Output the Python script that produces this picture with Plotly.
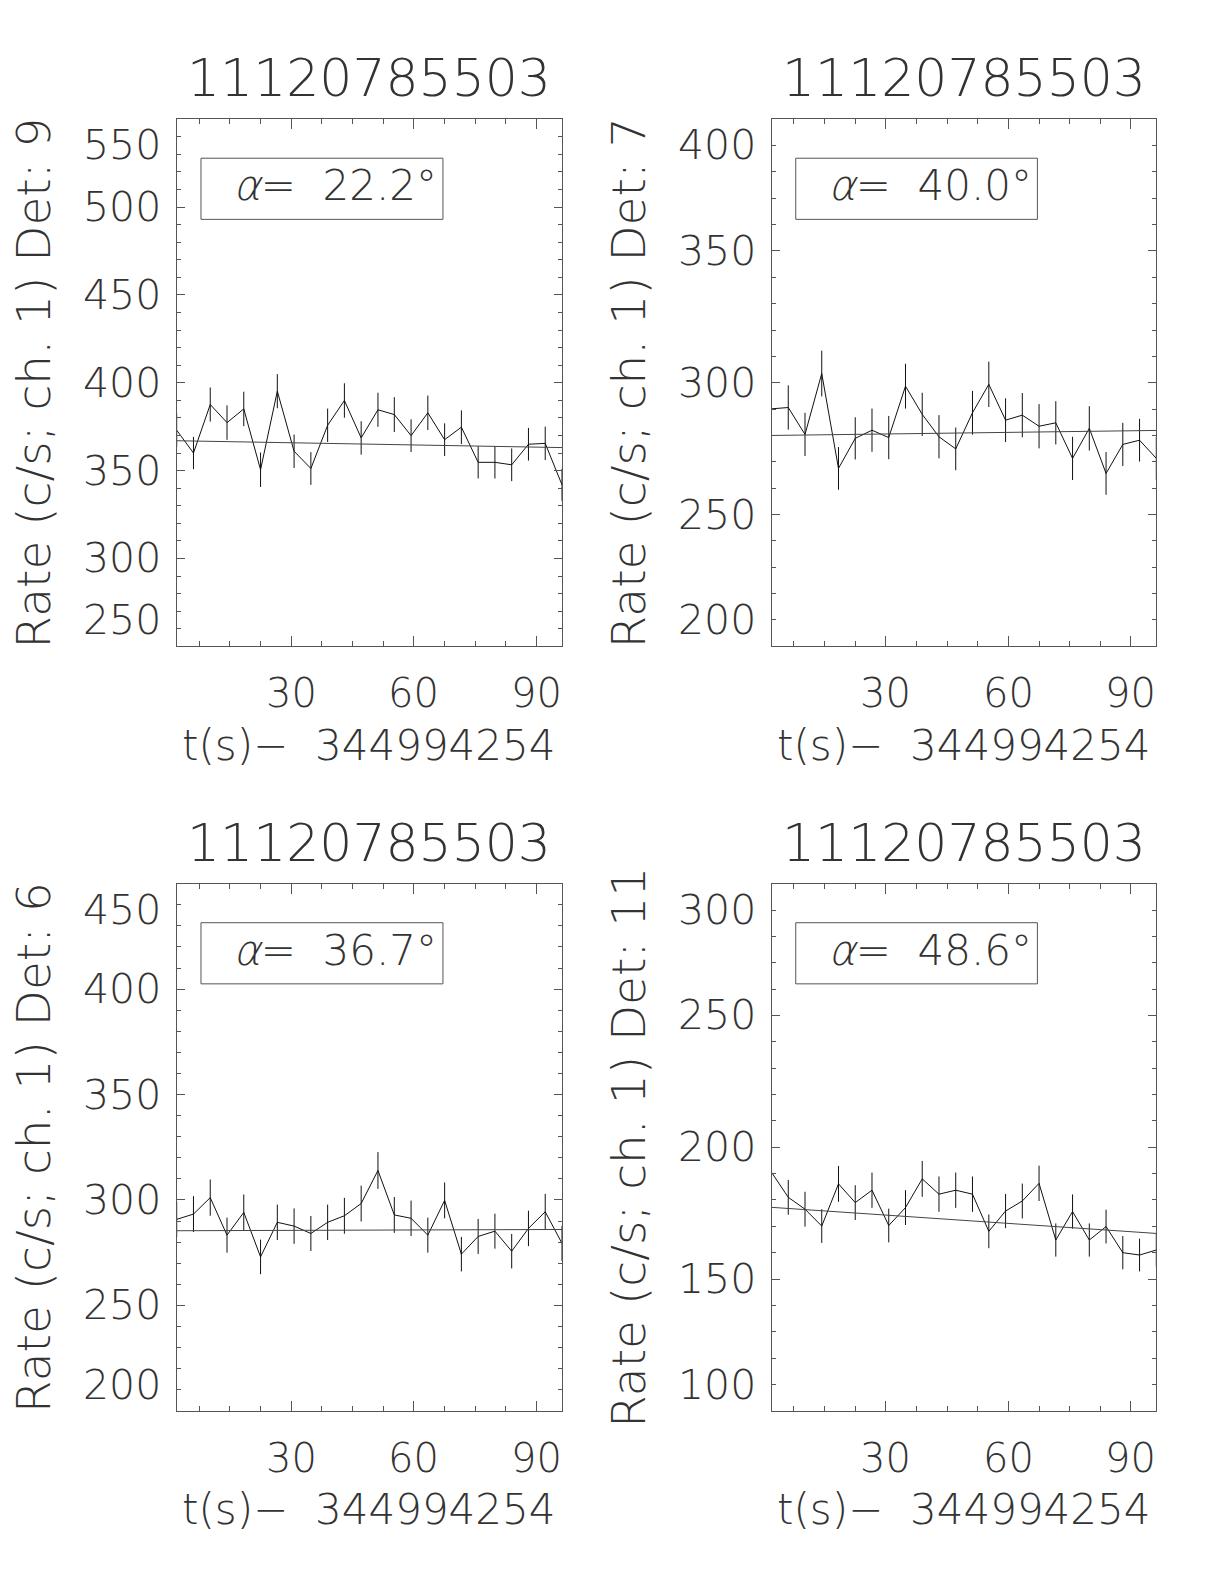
import plotly.graph_objects as go

# ---------------- data ----------------
t = [2.0, 6.1, 10.2, 14.3, 18.4, 22.5, 26.6, 30.7, 34.8, 38.9, 43.0, 47.1,
     51.2, 55.2, 59.3, 63.4, 67.5, 71.6, 75.7, 79.8, 83.9, 88.0, 92.1, 96.2]

rate_det9 = [373.0, 360.0, 387.6, 377.3, 385.1, 350.5, 395.2, 361.0, 351.2, 375.8, 389.9, 368.6,
             384.6, 381.9, 369.9, 382.9, 367.6, 374.7, 354.7, 354.7, 353.3, 365.0, 365.5, 341.9]
err_det9 = [9.5, 9.2, 9.7, 9.8, 9.8, 9.8, 9.7, 9.5, 9.3, 9.5, 9.8, 9.5,
            9.7, 9.9, 9.3, 9.8, 9.3, 9.6, 9.2, 9.2, 9.3, 9.3, 9.5, 9.1]
fit_det9 = [367.0, 363.1]

rate_det7 = [290.1, 290.6, 280.4, 303.5, 267.5, 278.9, 282.0, 279.2, 298.7, 288.0, 279.5, 274.9,
             288.6, 299.4, 285.8, 287.7, 283.5, 284.8, 271.3, 282.7, 265.6, 276.6, 278.2, 271.3]
err_det7 = [8.4, 8.4, 8.2, 8.7, 8.1, 8.0, 8.2, 8.2, 8.5, 8.2, 8.2, 8.1,
            8.3, 8.6, 8.3, 8.4, 8.4, 8.2, 8.2, 8.4, 8.1, 8.2, 8.1, 8.1]
fit_det7 = [280.0, 281.9]

rate_det6 = [290.8, 293.3, 301.1, 283.3, 294.1, 273.0, 289.4, 287.6, 284.1, 289.4, 292.5, 298.3,
             314.0, 292.9, 291.3, 283.3, 299.8, 274.3, 282.7, 285.2, 275.7, 286.5, 294.4, 279.4]
err_det6 = [8.4, 8.5, 8.6, 8.3, 8.5, 8.2, 8.4, 8.4, 8.3, 8.4, 8.5, 8.5,
            8.7, 8.5, 8.4, 8.3, 8.5, 8.2, 8.3, 8.3, 8.2, 8.4, 8.5, 8.3]
fit_det6 = [285.4, 286.0]

rate_det11 = [190.5, 181.0, 176.5, 170.1, 186.1, 179.0, 183.7, 170.3, 177.1, 188.0, 182.2, 183.7,
              182.2, 168.1, 175.8, 179.6, 186.3, 164.8, 175.6, 164.8, 169.9, 160.0, 159.1, 161.0]
err_det11 = [6.8, 6.6, 6.6, 6.4, 6.8, 6.6, 6.7, 6.4, 6.6, 6.8, 6.7, 6.7,
             6.7, 6.4, 6.5, 6.6, 6.7, 6.3, 6.5, 6.3, 6.4, 6.3, 6.2, 6.3]
fit_det11 = [177.2, 167.3]

titles = ["11120785503", "11120785503", "11120785503", "11120785503"]
detectors = ["9", "7", "6", "11"]
alphas = ["22.2", "40.0", "36.7", "48.6"]
y_ranges = [[250, 550], [200, 400], [200, 450], [100, 300]]
x_range = [2.0, 96.2]
x_tick_vals = [30, 60, 90]
x_tick_text = ["30", "60", "90"]
x_title = "t(s)\u2212  344994254"

rates = [rate_det9, rate_det7, rate_det6, rate_det11]
errs = [err_det9, err_det7, err_det6, err_det11]
fits = [fit_det9, fit_det7, fit_det6, fit_det11]

# ---------------- layout ----------------
W, H = 1224, 1584
FONT = "DejaVu Sans Light, Inter, DejaVu Sans"
FW = 200
TXT = "#333333"
LINE = "#111111"
AX = "#555555"

x_domains = [[176.7 / W, 562.0 / W], [771.5 / W, 1156.3 / W]]
y_domains = [[1 - 646.3 / H, 1 - 119.2 / H], [1 - 1410.8 / H, 1 - 883.7 / H]]
panel_pos = [(0, 0), (1, 0), (0, 1), (1, 1)]

fig = go.Figure()
layout = dict(width=W, height=H, margin=dict(l=0, r=0, t=0, b=0),
              paper_bgcolor="white", plot_bgcolor="white", showlegend=False,
              font=dict(family=FONT, color=TXT))
annotations = []
shapes = []


def fnt(size):
    return dict(size=size, family=FONT, color=TXT, weight=FW)


for i in range(4):
    n = i + 1
    xs = "x" if n == 1 else f"x{n}"
    ys = "y" if n == 1 else f"y{n}"
    cx, cy = panel_pos[i]

    fig.add_trace(go.Scatter(
        x=t, y=rates[i], mode="lines", xaxis=xs, yaxis=ys,
        line=dict(color=LINE, width=1),
        error_y=dict(type="data", array=errs[i], visible=True, width=0,
                     thickness=1, color=LINE),
        hoverinfo="skip"))
    fig.add_trace(go.Scatter(
        x=[t[0], t[-1]], y=fits[i], mode="lines", xaxis=xs, yaxis=ys,
        line=dict(color="#444444", width=1), hoverinfo="skip"))

    layout[f"xaxis{n}"] = dict(
        domain=x_domains[cx], range=x_range, anchor=ys,
        showline=True, linecolor=AX, linewidth=1, mirror="ticks",
        ticks="inside", tickvals=x_tick_vals, ticklen=10, tickcolor=AX,
        showticklabels=False, showgrid=False, zeroline=False,
        minor=dict(ticks="inside", ticklen=5, dtick=7.5, tick0=0,
                   tickcolor=AX, showgrid=False))
    y0, y1 = y_ranges[i]
    layout[f"yaxis{n}"] = dict(
        domain=y_domains[cy], range=[y0, y1], anchor=xs,
        showline=True, linecolor=AX, linewidth=1, mirror="ticks",
        ticks="inside", tick0=0, dtick=50, ticklen=8, tickcolor=AX,
        showticklabels=False, showgrid=False, zeroline=False,
        minor=dict(ticks="inside", ticklen=4, dtick=10, tick0=0,
                   tickcolor=AX, showgrid=False))

    xd = f"{xs} domain"
    yd = f"{ys} domain"

    # title
    annotations.append(dict(text=titles[i], xref=xd, yref=yd, x=0.5, y=1,
                            xanchor="center", yanchor="middle", yshift=41,
                            showarrow=False, font=fnt(52)))
    # x tick labels
    for v, s in zip(x_tick_vals, x_tick_text):
        annotations.append(dict(text=s, xref=xs, yref=yd, x=v, y=0,
                                xanchor="center", yanchor="middle", yshift=-47,
                                showarrow=False, font=fnt(40)))
    # x title
    annotations.append(dict(text=x_title, xref=xd, yref=yd, x=0.5, y=0,
                            xanchor="center", yanchor="middle", yshift=-99,
                            showarrow=False, font=fnt(42)))
    # y tick labels (end labels kept inside the axis span)
    yv = list(range(y0, y1 + 1, 50))
    for v in yv:
        if v == y1:
            ya = "top"
        elif v == y0:
            ya = "bottom"
        else:
            ya = "middle"
        annotations.append(dict(text=str(v), xref=xd, yref=ys, x=0, y=v,
                                xanchor="right", yanchor=ya, xshift=-14,
                                showarrow=False, font=fnt(41)))
    # y title
    annotations.append(dict(text=f"Rate (c/s; ch. 1) Det: {detectors[i]}",
                            xref=xd, yref=yd, x=0, y=0.5, textangle=-90,
                            xanchor="center", yanchor="middle", xshift=-143,
                            showarrow=False, font=fnt(47)))
    # alpha box
    shapes.append(dict(type="rect", xref=xd, yref=yd, x0=0.063, x1=0.691,
                       y0=0.810, y1=0.926, line=dict(color=AX, width=1)))
    annotations.append(dict(text=f"<i>\u03b1</i>=\u00a0\u00a0{alphas[i]}\u00b0",
                            xref=xd, yref=yd, x=0.412, y=0.874,
                            xanchor="center", yanchor="middle",
                            showarrow=False, font=fnt(42)))

layout["annotations"] = annotations
layout["shapes"] = shapes
fig.update_layout(**layout)
fig.write_html("out.html", config={"displayModeBar": False},
               post_script="document.body.style.margin='0px';document.body.style.overflow='hidden';")
